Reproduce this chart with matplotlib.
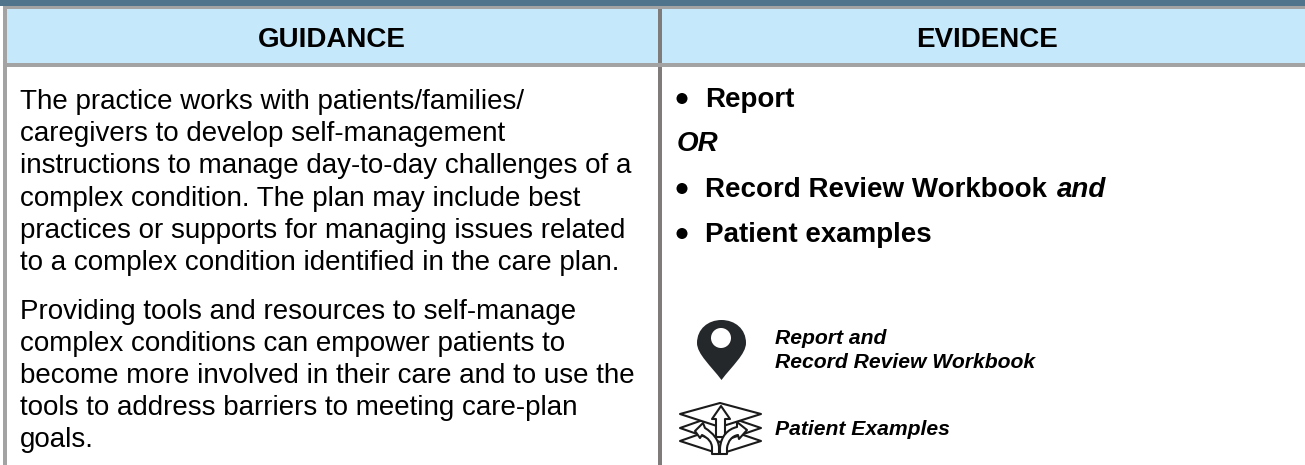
import matplotlib
matplotlib.use("Agg")
import matplotlib.pyplot as plt
from matplotlib.patches import Circle, PathPatch, Polygon, Rectangle
from matplotlib.path import Path

plt.rcParams['font.family'] = ['Liberation Sans', 'DejaVu Sans']

HEADERS = ["GUIDANCE", "EVIDENCE"]
GUIDANCE_PARA_1 = [
    "The practice works with patients/families/",
    "caregivers to develop self-management",
    "instructions to manage day-to-day challenges of a",
    "complex condition. The plan may include best",
    "practices or supports for managing issues related",
    "to a complex condition identified in the care plan.",
]
GUIDANCE_PARA_2 = [
    "Providing tools and resources to self-manage",
    "complex conditions can empower patients to",
    "become more involved in their care and to use the",
    "tools to address barriers to meeting care-plan",
    "goals.",
]
W, H = 1305, 465
BODY = 20
LEGEND = 15.2

fig = plt.figure(figsize=(W / 100, H / 100), dpi=100)
ax = fig.add_axes([0, 0, 1, 1])
ax.set_xlim(0, W)
ax.set_ylim(H, 0)
ax.axis("off")


def rect(x0, y0, x1, y1, color):
    ax.add_patch(Rectangle((x0, y0), x1 - x0, y1 - y0, fc=color, ec="none"))


# Bands and rules
rect(0, 0, W, 6, "#4f748c")
rect(3, 6, W, 9, "#a3a3a3")
rect(7, 9, W, 63, "#c5e8fb")
rect(3, 63, W, 67, "#a3a3a3")
rect(3, 6, 7, H, "#a3a3a3")
rect(658, 9, 662, 63, "#7f7b7b")
rect(658, 67, 662, H, "#7f7b7b")

# Headers
ax.text(332, 47, HEADERS[0], fontsize=BODY, fontweight="bold", ha="center", va="baseline")
ax.text(987, 47, HEADERS[1], fontsize=BODY, fontweight="bold", ha="center", va="baseline")

# Guidance text
for i, line in enumerate(GUIDANCE_PARA_1):
    ax.text(20, 109 + i * 32.2, line, fontsize=BODY, va="baseline")
for i, line in enumerate(GUIDANCE_PARA_2):
    ax.text(20, 319 + i * 32, line, fontsize=BODY, va="baseline")

# Evidence list
for text, y in [("Report", 107), ("Record Review Workbook", 197), ("Patient examples", 242)]:
    ax.add_patch(Circle((682, y - 8.5), 5.5, fc="black", ec="none"))
    ax.text(705, y, text, fontsize=BODY, fontweight="bold", va="baseline")
ax.text(1057, 197, "and", fontsize=BODY, fontweight="bold", style="italic", va="baseline")
ax.text(677, 151, "OR", fontsize=BODY, fontweight="bold", style="italic", va="baseline")

# Legend labels
ax.text(775, 344, "Report and", fontsize=LEGEND, fontweight="bold", style="italic", va="baseline")
ax.text(775, 367.5, "Record Review Workbook", fontsize=LEGEND, fontweight="bold", style="italic", va="baseline")
ax.text(775, 435, "Patient Examples", fontsize=LEGEND, fontweight="bold", style="italic", va="baseline")

# Map pin icon
pin = Path(
    [(721.5, 380), (711, 366), (697, 354), (697, 343), (697, 329), (708, 320), (721.5, 320),
     (735, 320), (746, 329), (746, 343), (746, 354), (732, 366), (721.5, 380)],
    [Path.MOVETO] + [Path.CURVE4] * 12,
)
ax.add_patch(PathPatch(pin, fc="#25282b", ec="none"))
ax.add_patch(Circle((721, 338), 10, fc="white", ec="none"))

# Layers with arrows icon
ink = dict(fc="white", ec="#1a1a1a", lw=1.5, joinstyle="round")
ax.add_patch(Polygon([(680, 441), (720, 427), (761, 441), (720, 454)], **ink))
ax.add_patch(Polygon([(680, 428), (720, 414), (761, 428), (720, 442)], **ink))
ax.add_patch(Polygon([(680, 414), (720, 403), (761, 414), (720, 427)], **ink))
ax.add_patch(Polygon([(721, 406), (730, 419), (725, 419), (725, 437), (716, 437), (716, 419), (712, 419)], **ink))
left_arrow = Path(
    [(695, 431), (703, 423), (705, 428), (713, 433), (719, 440), (719, 448), (719, 454), (712, 454),
     (712, 448), (712, 442), (708, 438), (702, 435), (700, 438), (695, 431)],
    [Path.MOVETO, Path.LINETO, Path.LINETO, Path.CURVE4, Path.CURVE4, Path.CURVE4, Path.LINETO, Path.LINETO,
     Path.LINETO, Path.CURVE4, Path.CURVE4, Path.CURVE4, Path.LINETO, Path.CLOSEPOLY],
)
ax.add_patch(PathPatch(left_arrow, **ink))
right_arrow = Path(
    [(747, 430), (737, 422), (737, 427), (728, 429), (721, 436), (720, 448), (720, 454), (727, 454),
     (727, 448), (728, 441), (732, 436), (738, 435), (739, 439), (747, 430)],
    [Path.MOVETO, Path.LINETO, Path.LINETO, Path.CURVE4, Path.CURVE4, Path.CURVE4, Path.LINETO, Path.LINETO,
     Path.LINETO, Path.CURVE4, Path.CURVE4, Path.CURVE4, Path.LINETO, Path.CLOSEPOLY],
)
ax.add_patch(PathPatch(right_arrow, **ink))

fig.savefig("out.png", dpi=100)
